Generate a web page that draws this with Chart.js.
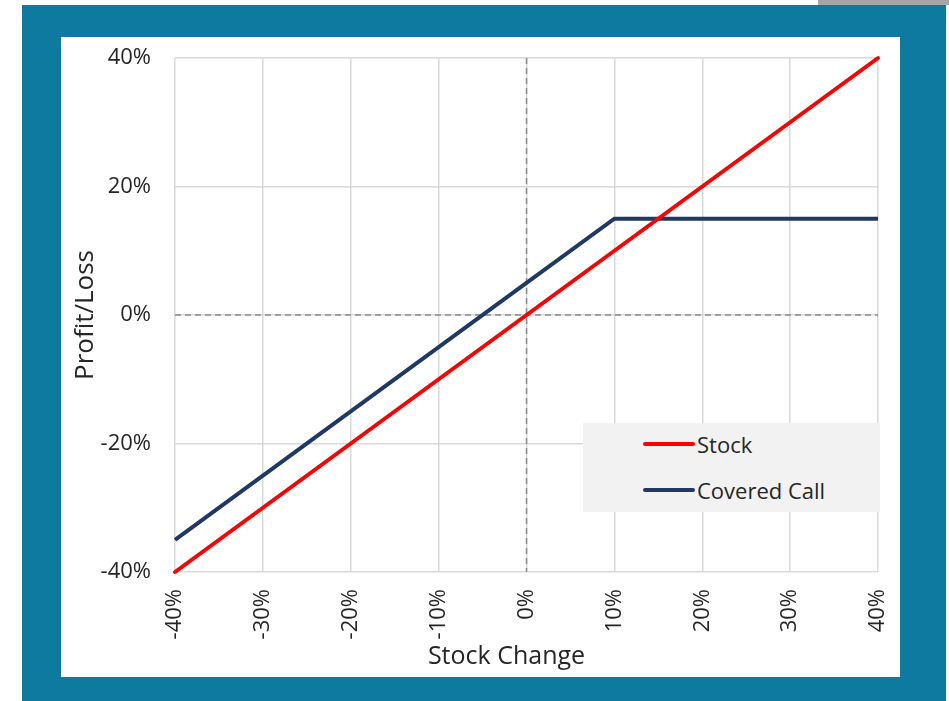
<!DOCTYPE html>
<html lang="en">
<head>
<meta charset="UTF-8">
<title>Covered Call</title>
<script src="https://cdn.jsdelivr.net/npm/chart.js"></script>
<style>
  body { margin: 0; background: #fff; width: 949px; height: 701px; position: relative; overflow: hidden; font-family: "Open Sans", sans-serif; }
  #frame { position: absolute; left: 22px; top: 5px; width: 924px; height: 696px; background: #0e7aa0; }
  #topbar { position: absolute; left: 818px; top: 0; width: 131px; height: 5px; background: #a6a6a6; }
  #panel { position: absolute; left: 61px; top: 37px; width: 839px; height: 640px; background: #fff; }
  #legend { position: absolute; left: 583px; top: 423px; width: 297px; height: 89px; background: #f2f2f2; color: #262626; font-size: 22px; }
  .row { position: absolute; left: 60px; height: 30px; display: flex; align-items: center; }
  .swatch { width: 52px; height: 4px; border-radius: 2px; margin-right: 2px; }
</style>
</head>
<body>
  <div id="frame"></div>
  <div id="topbar"></div>
  <div id="panel"><canvas id="myChart" width="839" height="640"></canvas></div>
  <div id="legend"></div>

<script>
  // stock change on x, profit/loss on y (in %)
  const stockChange = [-40, -30, -20, -10, 0, 10, 20, 30, 40];
  const stock = [-40, -30, -20, -10, 0, 10, 20, 30, 40];
  const coveredCall = [-35, -25, -15, -5, 5, 15, 15, 15, 15];
  const seriesNames = ['Stock', 'Covered Call'];
  const seriesColors = ['#ff0000', '#1f3864'];

  const toPoints = (ys) => ys.map((v, i) => ({ x: stockChange[i], y: v }));

  // dashed lines through zero
  const zeroLines = {
    id: 'zeroLines',
    beforeDatasetsDraw(chart) {
      const c = chart.ctx, a = chart.chartArea;
      const x0 = chart.scales.x.getPixelForValue(0);
      const y0 = chart.scales.y.getPixelForValue(0);
      c.save();
      c.strokeStyle = '#8c8c8c';
      c.lineWidth = 1.5;
      c.setLineDash([6, 4]);
      c.beginPath();
      c.moveTo(x0, a.top); c.lineTo(x0, a.bottom);
      c.moveTo(a.left, y0); c.lineTo(a.right, y0);
      c.stroke();
      c.restore();
    }
  };

  // x title sits a bit left of the plot centre, like the original
  const xTitle = {
    id: 'xTitle',
    afterDraw(chart) {
      const c = chart.ctx, s = chart.scales.x;
      c.save();
      c.font = '25px "Open Sans", sans-serif';
      c.fillStyle = '#262626';
      c.textAlign = 'center';
      c.textBaseline = 'middle';
      c.fillText('Stock Change', (s.left + s.right) / 2 - 20, s.bottom - 20);
      c.restore();
    }
  };

  const tickFont = { family: '"Open Sans", sans-serif', size: 22 };

  const ctx = document.getElementById('myChart').getContext('2d');
  const chart = new Chart(ctx, {
    type: 'line',
    data: {
      datasets: [{
        label: seriesNames[0],
        data: toPoints(stock),
        borderColor: seriesColors[0],
        borderWidth: 4,
        borderCapStyle: 'round',
        pointRadius: 0,
        tension: 0,
        clip: false
      }, {
        label: seriesNames[1],
        data: toPoints(coveredCall),
        borderColor: seriesColors[1],
        borderWidth: 4,
        pointRadius: 0,
        tension: 0,
        clip: false,
        order: 1
      }]
    },
    options: {
      responsive: false,
      animation: false,
      layout: { padding: { top: 21, right: 22, left: 0, bottom: 0 } },
      plugins: { legend: { display: false }, tooltip: { enabled: false } },
      scales: {
        x: {
          type: 'linear',
          min: -40, max: 40,
          afterFit(s) { s.height = 105; s.paddingLeft = 0; s.paddingRight = 0; },
          ticks: {
            stepSize: 10,
            minRotation: 90, maxRotation: 90,
            color: '#262626',
            font: tickFont,
            padding: 17,
            callback: (v) => v + '%'
          },
          grid: { color: '#d9d9d9', lineWidth: 1.5, drawTicks: false },
          border: { display: false },
          title: { display: false }
        },
        y: {
          min: -40, max: 40,
          afterFit(s) { s.width = 114; s.paddingTop = 0; s.paddingBottom = 0; },
          ticks: {
            stepSize: 20,
            color: '#262626',
            font: tickFont,
            padding: 24,
            callback: (v) => v + '%'
          },
          grid: { color: '#d9d9d9', lineWidth: 1.5, drawTicks: false },
          border: { display: false },
          title: { display: true, text: 'Profit/Loss', color: '#262626', font: { family: '"Open Sans", sans-serif', size: 26 }, padding: { top: 9, bottom: 0 } }
        }
      }
    },
    plugins: [zeroLines, xTitle]
  });

  // legend box inside the plot
  const legend = document.getElementById('legend');
  seriesNames.forEach((name, i) => {
    const row = document.createElement('div');
    row.className = 'row';
    row.style.top = (6 + i * 46) + 'px';
    row.innerHTML = '<span class="swatch" style="background:' + seriesColors[i] + '"></span><span>' + name + '</span>';
    legend.appendChild(row);
  });
</script>
</body>
</html>
